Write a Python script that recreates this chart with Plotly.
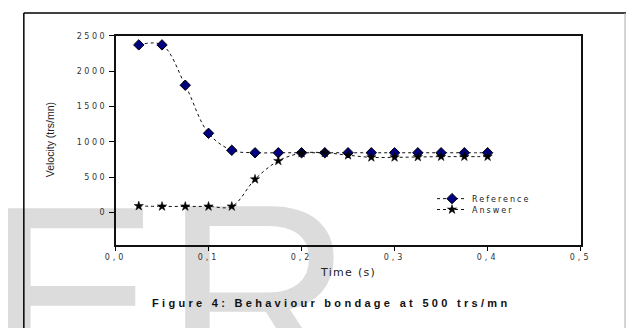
import plotly.graph_objects as go

# ---- data ----
time_s = [0.025, 0.05, 0.075, 0.1, 0.125, 0.15, 0.175, 0.2, 0.225, 0.25,
          0.275, 0.3, 0.325, 0.35, 0.375, 0.4]
reference = [2370, 2370, 1800, 1120, 880, 845, 845, 845, 845, 845,
             845, 845, 845, 845, 845, 845]
answer = [92, 86, 86, 86, 86, 470, 730, 840, 845, 810,
          780, 780, 785, 790, 790, 790]

x_tickvals = [0.0, 0.1, 0.2, 0.3, 0.4, 0.5]
x_ticktext = ["0,0", "0,1", "0,2", "0,3", "0,4", "0,5"]
y_tickvals = [0, 500, 1000, 1500, 2000, 2500]
y_ticktext = ["0", "500", "1000", "1500", "2000", "2500"]

series_names = ["Reference", "Answer"]
x_title = "Time (s)"
y_title = "Velocity (trs/mn)"
caption = "Figure 4: Behaviour bondage at 500 trs/mn"
watermark_letters = ["E", "R"]

# page geometry (browser page pixels); the page body has an 8px margin
OFF = 8
PW, PH = 637, 328
W, H = PW - OFF, PH - OFF
PLOT_L, PLOT_R, PLOT_T, PLOT_B = 108, 590, 32, 244

def dom_x(a, b):
    return [(a - OFF) / W, (b - OFF) / W]

def dom_y(top, bottom):
    return [(PH - bottom) / H, (PH - top) / H]

def spaced(s, px):
    return '<span style="letter-spacing:%spx">%s</span>' % (px, s)

fig = go.Figure()

# watermark on a full-page helper subplot (drawn beneath the data subplot)
fig.add_trace(go.Scatter(
    x=[63, 256], y=[323, 321], mode="text", text=watermark_letters,
    textposition="middle center",
    textfont=dict(family="Liberation Sans", size=262, color="#dcdcdc"),
    cliponaxis=False, showlegend=False, hoverinfo="skip",
    xaxis="x", yaxis="y"))

fig.add_trace(go.Scatter(
    x=time_s, y=reference, name=spaced(series_names[0], 2), mode="lines+markers",
    line=dict(color="#111111", width=1, dash="dot", shape="spline", smoothing=1),
    marker=dict(symbol="diamond", size=8, color="#000080",
                line=dict(color="#000000", width=1)),
    cliponaxis=False, xaxis="x2", yaxis="y2", legend="legend"))

fig.add_trace(go.Scatter(
    x=time_s, y=answer, name=spaced(series_names[1], 2), mode="lines+markers",
    line=dict(color="#111111", width=1, dash="dot", shape="spline", smoothing=1),
    marker=dict(symbol="star", size=7, color="#000000",
                line=dict(color="#000000", width=0.5)),
    cliponaxis=False, xaxis="x2", yaxis="y2", legend="legend2"))

tickfont = dict(family="DejaVu Sans", size=8, color="#333333")

legend_common = dict(xanchor="left", yanchor="middle",
                     bgcolor="rgba(0,0,0,0)", borderwidth=0,
                     font=dict(family="DejaVu Sans", size=8, color="#222222"))

fig.update_layout(
    width=W, height=H,
    margin=dict(l=0, r=0, t=0, b=0, pad=0),
    paper_bgcolor="#ffffff", plot_bgcolor="rgba(0,0,0,0)",
    showlegend=True,
    xaxis=dict(domain=[0, 1], range=[OFF, PW], visible=False, fixedrange=True),
    yaxis=dict(domain=[0, 1], range=[PH, OFF], visible=False, fixedrange=True),
    xaxis2=dict(domain=dom_x(PLOT_L, PLOT_R), anchor="y2", range=[0, 0.5],
                tickvals=x_tickvals, ticktext=[spaced(t, 3) for t in x_ticktext],
                ticks="outside", ticklen=4, tickcolor="#000000",
                showline=True, linecolor="#111111", linewidth=1.5, mirror=True,
                showgrid=False, zeroline=False, tickfont=tickfont),
    yaxis2=dict(domain=dom_y(PLOT_T, PLOT_B), anchor="x2", range=[-460, 2500],
                tickvals=y_tickvals, ticktext=[spaced(t, 2.5) for t in y_ticktext],
                ticks="outside", ticklen=5, tickcolor="#000000",
                showline=True, linecolor="#111111", linewidth=1.5, mirror=True,
                showgrid=False, zeroline=False, tickfont=tickfont,
                ticklabelstandoff=0),
    legend=dict(x=(436 - OFF) / W, y=(PH - 197) / H, **legend_common),
    legend2=dict(x=(436 - OFF) / W, y=(PH - 208) / H, **legend_common),
)

annotations = [
    dict(text=y_title, x=41, y=137, textangle=-90,
         font=dict(family="Liberation Sans", size=10.5, color="#222222")),
    dict(text=spaced(x_title, 1.3), x=349, y=272,
         font=dict(family="DejaVu Sans", size=11, color="#222222")),
    dict(text=spaced(caption, 3.3), x=331, y=303,
         font=dict(family="Liberation Sans", size=11, color="#111111",
                   weight="bold")),
]
for a in annotations:
    a.update(xref="x", yref="y", showarrow=False,
             xanchor="center", yanchor="middle")

shapes = [
    dict(type="line", xref="x", yref="y", x0=13, x1=13, y0=9, y1=PH,
         line=dict(color="#000000", width=1.5)),
    dict(type="line", xref="x", yref="y", x0=13, x1=PW, y0=9, y1=9,
         line=dict(color="#000000", width=1.5)),
    dict(type="line", xref="x", yref="y", x0=636, x1=636, y0=9, y1=PH,
         line=dict(color="#aaaaaa", width=1)),
]

fig.update_layout(annotations=annotations, shapes=shapes)

fig.write_html("out.html")
